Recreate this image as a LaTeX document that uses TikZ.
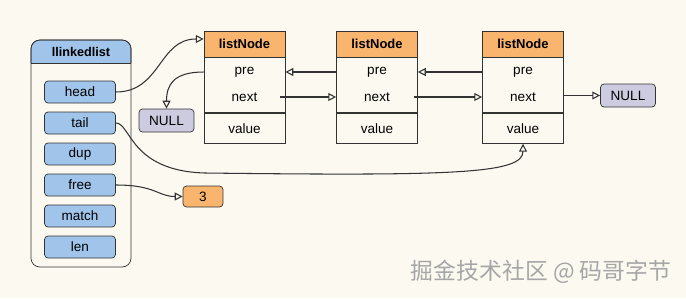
\documentclass[tikz,border=0pt]{standalone}
\usepackage{fontspec}
\setmainfont{Liberation Sans}
\newfontfamily\cjkfont{Noto Sans CJK SC}
\usetikzlibrary{positioning,arrows.meta}
\definecolor{paper}{HTML}{FBF9F0}
\definecolor{listblue}{HTML}{A0C4EA}
\definecolor{nodeorange}{HTML}{F9B46E}
\definecolor{nullgray}{HTML}{CCCBE0}
\definecolor{inkline}{HTML}{333333}
\tikzset{
	field/.style={draw=inkline,fill=listblue,rounded corners=2pt,minimum width=1.42cm,minimum height=0.44cm,inner sep=0pt},
	lnhead/.style={draw=inkline,fill=nodeorange,minimum width=1.62cm,minimum height=0.52cm,inner sep=0pt,font=\fontsize{7.4}{8}\selectfont\bfseries},
	lnbody/.style={draw=inkline,fill=paper,minimum width=1.62cm,minimum height=1.1cm,inner sep=0pt},
	lnval/.style={draw=inkline,fill=paper,minimum width=1.62cm,minimum height=0.6cm,inner sep=0pt},
	nullbox/.style={draw=inkline,fill=nullgray,rounded corners=2pt,minimum width=1.1cm,minimum height=0.46cm,inner sep=0pt},
	numbox/.style={draw=inkline,fill=nodeorange,rounded corners=2pt,minimum width=0.8cm,minimum height=0.42cm,inner sep=0pt},
	link/.style={->,inkline,semithick},
}
\begin{document}
\begin{tikzpicture}[x=0.02cm,y=-0.02cm,>={Triangle[open,length=4.5pt,width=4.5pt]},font=\fontsize{7.7}{9}\selectfont]
	\fill[paper] (0,0) rectangle (686,298);
	\useasboundingbox (0,0) rectangle (686,298);
	\draw[inkline,fill=listblue,rounded corners=5pt] (31,63) -- (31,40) -- (131,40) -- (131,63);
	\draw[inkline] (31,63) -- (131,63);
	\draw[inkline,rounded corners=5pt] (31,40) rectangle (131,267);
	\node[font=\fontsize{7.2}{8}\selectfont\bfseries] (title) at (81,51.5) {llinkedlist};
	\foreach \name [count=\i] in {head,tail,dup,free,match,len}
	\node[field] (\name) at (80,{92+31*(\i-1)}) {\name};
	\foreach \x [count=\i] in {244.5,377,523} {
		\node[lnhead] (h\i) at (\x,44) {listNode};
		\node[lnbody,below=0pt of h\i] (b\i) {};
		\node[lnval,below=0pt of b\i] (v\i) {value};
		\node (p\i) at (\x,72) {pre};
		\node (n\i) at (\x,97) {next};
	}
	\node[nullbox] (nullL) at (166.5,120.5) {NULL};
	\node[nullbox] (nullR) at (628,95.5) {NULL};
	\node[numbox] (three) at (203,196.5) {3};
	\coordinate (bend) at (205,173);
	\draw[link] (head.east) .. controls +(45,0) and +(-45,0) .. ([yshift=0.1cm]h1.west);
	\draw[link] (b1.west |- p1) .. controls +(-30,0) and +(0,-24) .. (nullL.north);
	\draw[link] ([xshift=-0.1cm]b1.east |- n1) -- (b2.west |- n1);
	\draw[link] (b2.west |- p2) -- (b1.east |- p2);
	\draw[link] ([xshift=-0.08cm]b2.east |- n2) -- (b3.west |- n2);
	\draw[link] (b3.west |- p3) -- (b2.east |- p3);
	\draw[link] (b3.east |- nullR) -- (nullR.west);
	\draw[link] (tail.east) .. controls +(15,0) and +(-75,-2) .. (bend) .. controls +(250,3) and +(0,30) .. (v3.south);
	\draw[link] (free.east) .. controls +(40,0) and +(-25,0) .. (three.west);
	\node[text=gray!70,font=\cjkfont\fontsize{13}{15}\selectfont] (mark) at (541,272) {掘金技术社区 @ 码哥字节};
\end{tikzpicture}
\end{document}
